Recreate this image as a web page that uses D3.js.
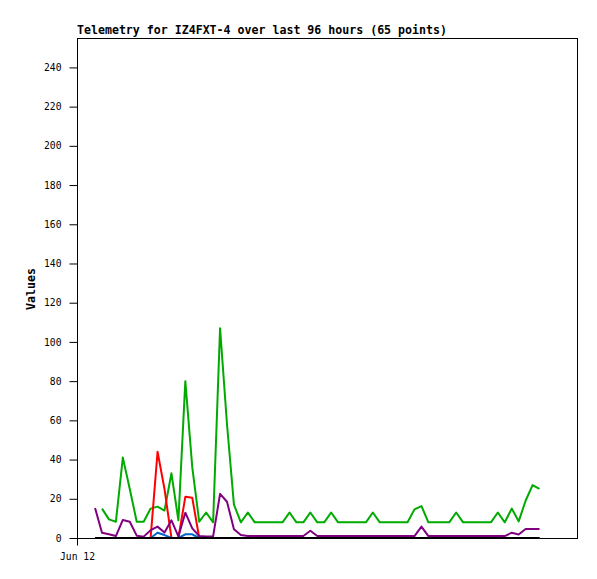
<!DOCTYPE html>
<html>
<head>
<meta charset="utf-8">
<script src="https://cdn.jsdelivr.net/npm/d3@7/dist/d3.min.js"></script>
<style>
  html, body { margin: 0; padding: 0; background: #fff; }
  svg { display: block; }
</style>
</head>
<body>
<svg id="chart" width="597" height="579"></svg>
<script>
// ---- data ----
const titleText = "Telemetry for IZ4FXT-4 over last 96 hours (65 points)";
const yAxisLabel = "Values";
const startDate = "2023-06-12T00:00:00Z";
const windowHours = 96;
// minutes after the window start for each of the 65 points
const minutes = [208,288,368,448,528,608,688,768,848,928,1008,1088,1168,1248,1328,1408,1488,1568,1648,1728,1808,1888,1968,2048,2128,2208,2288,2368,2448,2528,2608,2688,2768,2848,2928,3008,3088,3168,3248,3328,3408,3488,3568,3648,3728,3808,3888,3968,4048,4128,4208,4288,4368,4448,4528,4608,4688,4768,4848,4928,5008,5088,5168,5248,5328];
const greenValues = [null,15,9.5,8.3,41,25,8.3,8.3,15,16,14,33,9,80,36,8.3,13,8,107,58,17,8,13,8,8,8,8,8,13,8,8,13,8,8,13,8,8,8,8,8,13,8,8,8,8,8,14.6,16.3,8,8,8,8,13,8,8,8,8,8,13,8,15,8.5,19,27,25];
const redValues = [0,0,0,0,0,0,0,0,0,44,25,0,0,21,20.5,0,0,0,0,0,0,0,0,0,0,0,0,0,0,0,0,0,0,0,0,0,0,0,0,0,0,0,0,0,0,0,0,0,0,0,0,0,0,0,0,0,0,0,0,0,0,0,0,0,0];
const blueValues = [0,0,0,0,0,0,0,0,0,2.7,1.5,0,0,1.9,1.9,0,0,0,0,0,0,0,0,0,0,0,0,0,0,0,0,0,0,0,0,0,0,0,0,0,0,0,0,0,0,0,0,0,0,0,0,0,0,0,0,0,0,0,0,0,0,0,0,0,0];
const purpleValues = [15.3,2.7,1.9,1,9.2,8.3,1.2,0.7,4,5.8,2.8,9,0.8,12.9,4.9,1,0.8,0.8,22.5,18.5,4.5,1.5,1,1,1,1,1,1,1,1,1,3.7,1,1,1,1,1,1,1,1,1,1,1,1,1,1,1,5.8,1,1,1,1,1,1,1,1,1,1,1,1,2.7,1.8,4.6,4.6,4.6];
const blackValues = [0,0,0,0,0,0,0,0,0,0,0,0,0,0,0,0,0,0,0,0,0,0,0,0,0,0,0,0,0,0,0,0,0,0,0,0,0,0,0,0,0,0,0,0,0,0,0,0,0,0,0,0,0,0,0,0,0,0,0,0,0,0,0,0,0];
const yTicks = [0,20,40,60,80,100,120,140,160,180,200,220,240];
const yMax = 255;

// ---- layout ----
const svg = d3.select("#chart");
const L = 77, T = 38, R = 577, B = 538;

const t0 = new Date(startDate);
const t1 = new Date(t0.getTime() + windowHours * 3600e3);
const times = minutes.map(m => new Date(t0.getTime() + m * 60e3));

const x = d3.scaleUtc().domain([t0, t1]).range([L, R]);
const y = d3.scaleLinear().domain([0, yMax]).range([B, T]);

// frame
svg.append("rect")
  .attr("x", L + 0.5).attr("y", T + 0.5)
  .attr("width", R - L).attr("height", B - T)
  .attr("fill", "none").attr("stroke", "#000").attr("stroke-width", 1);

// y axis
const yAxis = d3.axisLeft(y).tickValues(yTicks).tickSize(8).tickPadding(8).tickSizeOuter(0);
const gy = svg.append("g").attr("transform", `translate(${L + 0.5},0)`).call(yAxis);
gy.select(".domain").remove();
gy.selectAll("text").attr("font-family", "DejaVu Sans Mono").attr("font-size", "9.7px").attr("fill", "#000");

// x axis
const xAxis = d3.axisBottom(x).tickValues([t0]).tickFormat(d3.utcFormat("%b %d")).tickSize(7).tickPadding(8).tickSizeOuter(0);
const gx = svg.append("g").attr("transform", `translate(0,${B + 0.5})`).call(xAxis);
gx.select(".domain").remove();
gx.selectAll("text").attr("font-family", "DejaVu Sans Mono").attr("font-size", "9.7px").attr("fill", "#000");

// title
svg.append("text")
  .attr("x", L).attr("y", 34)
  .attr("font-family", "DejaVu Sans Mono").attr("font-weight", "bold").attr("font-size", "11.6px")
  .attr("fill", "#000")
  .text(titleText);

// y label
svg.append("text")
  .attr("transform", `translate(35,289) rotate(-90)`)
  .attr("text-anchor", "middle")
  .attr("font-family", "DejaVu Sans Mono").attr("font-weight", "bold").attr("font-size", "11.6px")
  .attr("fill", "#000")
  .text(yAxisLabel);

// series
const series = [
  { values: greenValues, color: "#00aa00" },
  { values: redValues, color: "#ff0000" },
  { values: blueValues, color: "#0066cc" },
  { values: purpleValues, color: "#800080" },
  { values: blackValues, color: "#000000" }
];
const line = d3.line()
  .defined(d => d.v != null)
  .x(d => x(d.t))
  .y(d => y(d.v));

series.forEach(s => {
  const pts = s.values.map((v, i) => ({ t: times[i], v }));
  svg.append("path")
    .datum(pts)
    .attr("d", line)
    .attr("fill", "none")
    .attr("stroke", s.color)
    .attr("stroke-width", 2)
    .attr("stroke-linejoin", "round");
});
</script>
</body>
</html>
